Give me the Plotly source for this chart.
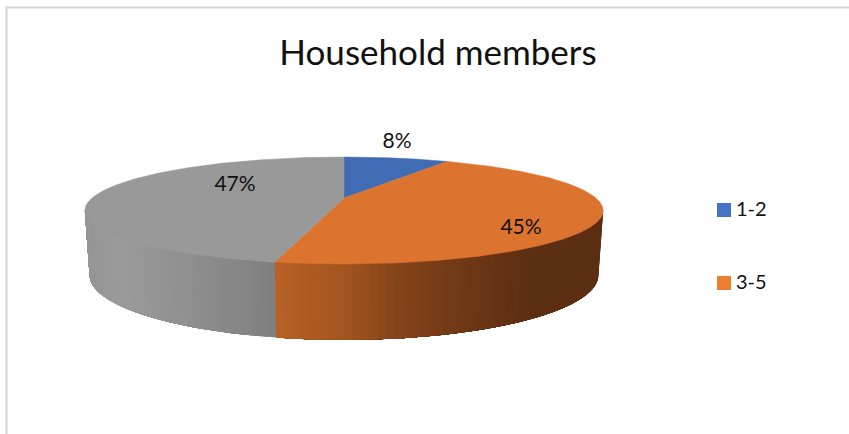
import numpy as np
import plotly.graph_objects as go

categories = ["1-2", "3-5", "6+"]
shares = [8.2, 45.2, 46.6]
title_text = "Household members"
legend_names = ["1-2", "3-5"]

top_colors = ["#3f6cb5", "#dc7430", "#999999"]
legend_colors = ["#4472c4", "#ed7d31"]
label_x = [397, 521, 235]
label_y = [142.5, 229, 186]
legend_marker_x = [724, 724]
legend_text_x = [736, 736]
legend_y = [210, 283]
legend_text_y = [211, 284]

# side-wall shading: screen x -> rgb
orange_x = [276, 340, 400, 470, 525, 603]
orange_rgb = [(184, 98, 38), (165, 86, 31), (132, 68, 26), (110, 56, 22), (94, 48, 18), (92, 47, 18)]
gray_x = [86, 120, 200, 276]
gray_rgb = [(150, 150, 150), (155, 155, 155), (141, 141, 141), (128, 128, 128)]

# projected disc geometry
K = 0.2336
CX = 344
TOP = dict(A=252.0, B=50.58, y0=198.0)
BOT = dict(A=247.4, B=61.4, y0=259.8)


def project(theta_deg, d):
    t = np.radians(theta_deg)
    u, v = np.sin(t), np.cos(t)
    w = 1 + K * v
    return CX + d["A"] * u / w, d["y0"] - d["B"] * v / w


def shade(x, xs, rgb):
    return "rgb(%d,%d,%d)" % tuple(np.interp(x, xs, [c[i] for c in rgb]) for i in range(3))


total = sum(shares)
edges = np.cumsum([0] + shares) / total * 360
fig = go.Figure()

limit = np.degrees(np.arccos(-K))
walls = [
    (limit, edges[2], orange_x, orange_rgb),
    (edges[2], 360 - limit, gray_x, gray_rgb),
]
for start, end, xs, rgb in walls:
    # painted from the outer end inward so each band overlaps the next and hides seams
    th = np.arange(start, end, 1.5)
    for a in th:
        b = end
        ang = np.linspace(a, b, 60)
        x1, y1 = project(ang, TOP)
        x2, y2 = project(ang[::-1], BOT)
        ax, _ = project(np.array([a, min(a + 1.5, end)]), TOP)
        col = shade(ax.mean(), xs, rgb)
        fig.add_trace(go.Scatter(
            x=list(x1) + list(x2) + [x1[0]], y=list(y1) + list(y2) + [y1[0]],
            mode="lines", fill="toself", fillcolor=col,
            line=dict(width=0), hoverinfo="skip", showlegend=False))

for i, col in enumerate(top_colors):
    th = np.linspace(edges[i], edges[i + 1], 200)
    ax, ay = project(th, TOP)
    fig.add_trace(go.Scatter(
        x=[CX] + list(ax) + [CX], y=[TOP["y0"]] + list(ay) + [TOP["y0"]],
        mode="lines", fill="toself", fillcolor=col,
        line=dict(color=col, width=0.5), name=categories[i],
        hoverinfo="name", showlegend=False))

fig.add_trace(go.Scatter(
    x=label_x, y=label_y, mode="text",
    text=["%d%%" % round(s) for s in shares],
    textposition="middle center",
    textfont=dict(family="Lato", size=21, color="#111111"),
    hoverinfo="skip", showlegend=False))

fig.add_trace(go.Scatter(
    x=legend_marker_x, y=legend_y, mode="markers",
    marker=dict(symbol="square", size=14, color=legend_colors, line=dict(width=0)),
    hoverinfo="skip", showlegend=False))
fig.add_trace(go.Scatter(
    x=legend_text_x, y=legend_text_y, mode="text", text=legend_names,
    textposition="middle right",
    textfont=dict(family="Lato", size=20, color="#111111"),
    hoverinfo="skip", showlegend=False))

fig.update_layout(
    width=849, height=434,
    margin=dict(l=0, r=0, t=0, b=0),
    paper_bgcolor="white", plot_bgcolor="white",
    title=dict(text=title_text, x=438 / 849, xanchor="center", xref="paper",
               y=1 - 53 / 434, yanchor="middle", yref="container",
               font=dict(family="Lato", size=35, color="#111111")),
    xaxis=dict(range=[0, 849], visible=False, fixedrange=True),
    yaxis=dict(range=[434, 0], visible=False, fixedrange=True),
    showlegend=False,
    shapes=[dict(type="path", path="M 6.5 434 L 6.5 7.5 L 849 7.5",
                 xref="x", yref="y", line=dict(color="#d4d4d4", width=2))],
)
fig.write_html("out.html", config={"displayModeBar": False},
               post_script="document.body.style.margin='0';document.body.style.overflow='hidden';")
